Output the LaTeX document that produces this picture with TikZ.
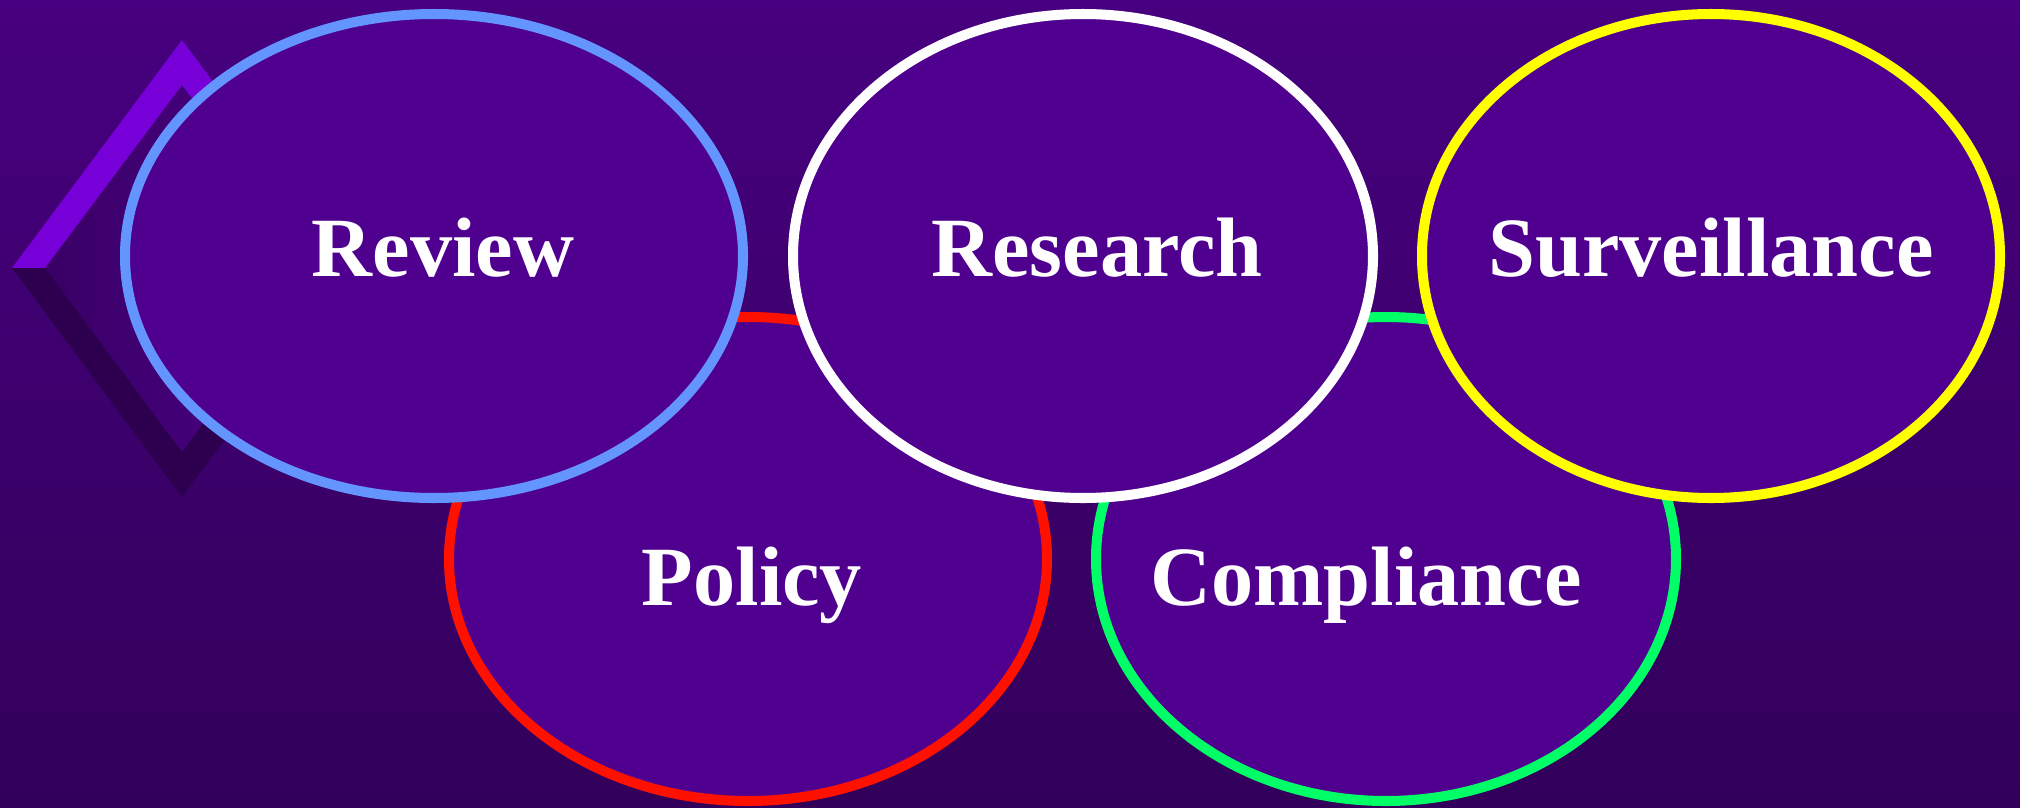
\documentclass[tikz,border=0pt]{standalone}
\usepackage{fontspec}
\setmainfont{Liberation Serif}
\usetikzlibrary{shapes}

\definecolor{bgtop}{HTML}{47007F}
\definecolor{bgmid}{HTML}{4A0086}
\definecolor{bgbot}{HTML}{32005A}
\definecolor{blobfill}{HTML}{50008F}
\definecolor{revblue}{HTML}{6495FF}
\definecolor{polred}{HTML}{FF1100}
\definecolor{compgreen}{HTML}{00FF66}
\definecolor{survyellow}{HTML}{FFFF00}
\definecolor{frmlight}{HTML}{7700D8}
\definecolor{frmdark}{HTML}{2D004F}
\definecolor{frmshade}{HTML}{3A0066}

\begin{document}
\begin{tikzpicture}
      \tikzstyle{blob}=[ellipse,line width=2.85pt,fill=blobfill,minimum height=4.84cm,inner sep=0pt]
      \tikzstyle{word}=[text=white,font=\fontsize{24}{28}\selectfont\bfseries,anchor=base,inner sep=0pt]

      \useasboundingbox (0,0) rectangle (20.2,-8.08);
      \shade[top color=bgtop,middle color=bgmid,bottom color=bgbot] (0,0) rectangle (20.2,-8.08);

      % diamond frame on the left
      \shade[left color=frmshade,right color=bgmid]
        (0.45,-2.68) -- (1.82,-0.85) -- (3.19,-2.68) -- (1.82,-4.52) -- cycle;
      \fill[frmlight] (0.12,-2.68) -- (1.82,-0.40) -- (3.52,-2.68) -- (3.19,-2.68)
        -- (1.82,-0.85) -- (0.45,-2.68) -- cycle;
      \fill[frmdark] (0.12,-2.68) -- (1.82,-4.97) -- (3.52,-2.68) -- (3.19,-2.68)
        -- (1.82,-4.52) -- (0.45,-2.68) -- cycle;

      % lower row first, the upper row overlaps it
      \node[blob,draw=polred,minimum width=5.98cm] (policy) at (7.48,-5.59) {};
      \node[blob,draw=compgreen,minimum width=5.80cm] (compliance) at (13.86,-5.59) {};
      \node[blob,draw=revblue,minimum width=6.18cm] (review) at (4.34,-2.56) {};
      \node[blob,draw=white,minimum width=5.80cm] (research) at (10.83,-2.56) {};
      \node[blob,draw=survyellow,minimum width=5.78cm] (surveillance) at (17.11,-2.56) {};

      \node[word] (review-txt) at ([xshift=0.09cm,yshift=-0.20cm]review.center) {Review};
      \node[word] (research-txt) at ([xshift=0.14cm,yshift=-0.20cm]research.center) {Research};
      \node[word] (surveillance-txt) at ([yshift=-0.20cm]surveillance.center) {Surveillance};
      \node[word] (policy-txt) at ([xshift=0.04cm,yshift=-0.46cm]policy.center) {Policy};
      \node[word] (compliance-txt) at ([xshift=-0.20cm,yshift=-0.46cm]compliance.center) {Compliance};
\end{tikzpicture}
\end{document}
